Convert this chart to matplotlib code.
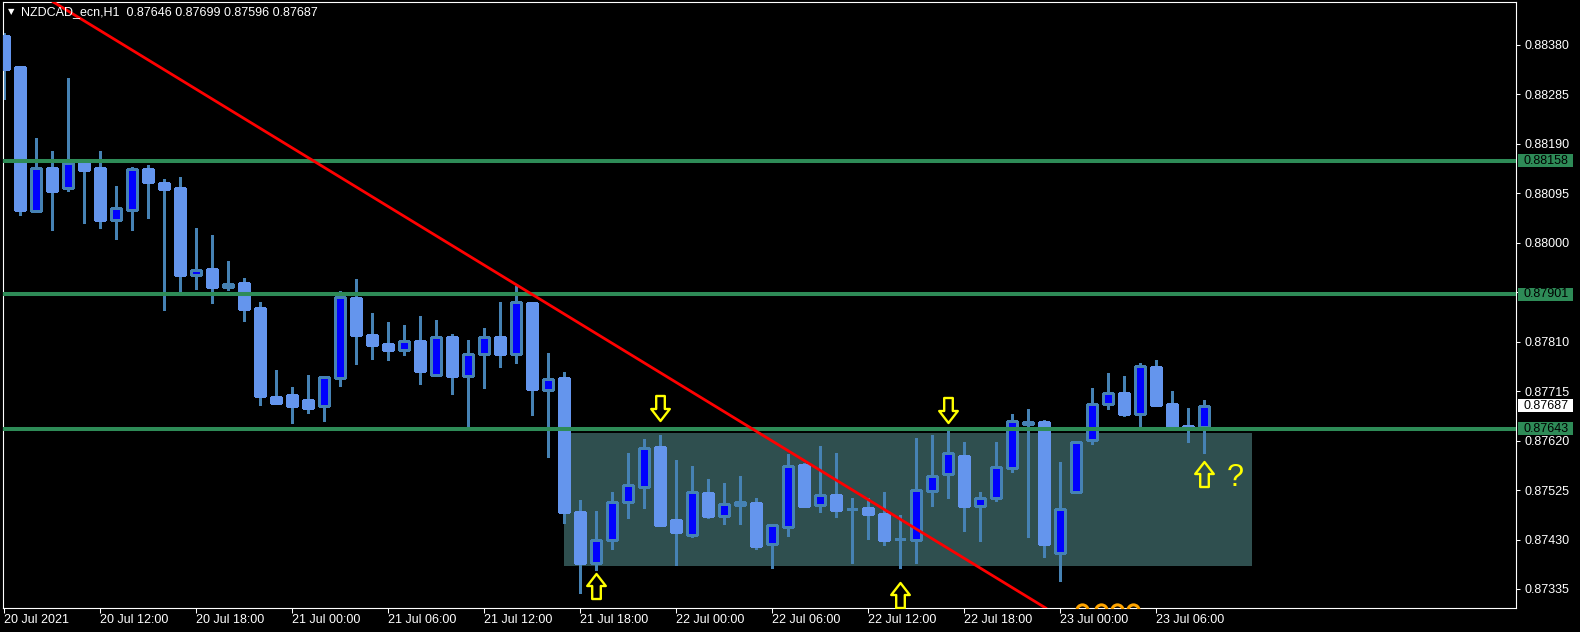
import matplotlib
matplotlib.use('Agg')
import matplotlib.pyplot as plt
import numpy as np
from matplotlib.path import Path
from matplotlib.patches import Rectangle
from matplotlib.transforms import blended_transform_factory

plt.rcParams['font.family'] = ['Liberation Sans', 'DejaVu Sans']

# Cabecera del grafico
symbol = 'NZDCAD_ecn,H1'
last_ohlc = [0.87646, 0.87699, 0.87596, 0.87687]

# Velas H1 desde 20 Jul 06:00 (indice 0) hasta 23 Jul 09:00 (indice 75)
opens = [0.88397, 0.88338, 0.88062, 0.88143, 0.88105, 0.88155, 0.88143, 0.88044, 0.88064, 0.88142,
         0.88115, 0.88105, 0.87939, 0.87950, 0.87916, 0.87923, 0.87875, 0.87704, 0.87707, 0.87698,
         0.87686, 0.87741, 0.87894, 0.87823, 0.87806, 0.87795, 0.87811, 0.87747, 0.87820, 0.87745,
         0.87786, 0.87819, 0.87786, 0.87884, 0.87717, 0.87740, 0.87483, 0.87384, 0.87429, 0.87502,
         0.87530, 0.87608, 0.87468, 0.87439, 0.87519, 0.87475, 0.87496, 0.87500, 0.87421, 0.87455,
         0.87573, 0.87496, 0.87515, 0.87489, 0.87491, 0.87479, 0.87431, 0.87430, 0.87524, 0.87555,
         0.87591, 0.87494, 0.87509, 0.87567, 0.87651, 0.87656, 0.87404, 0.87522, 0.87621, 0.87690,
         0.87711, 0.87672, 0.87761, 0.87690, 0.87648, 0.87646]
highs = [0.88403, 0.88340, 0.88202, 0.88176, 0.88316, 0.88157, 0.88176, 0.88109, 0.88146, 0.88149,
         0.88123, 0.88126, 0.88028, 0.88015, 0.87965, 0.87932, 0.87886, 0.87756, 0.87723, 0.87746,
         0.87744, 0.87907, 0.87930, 0.87865, 0.87848, 0.87842, 0.87859, 0.87852, 0.87825, 0.87813,
         0.87836, 0.87886, 0.87917, 0.87886, 0.87788, 0.87752, 0.87506, 0.87485, 0.87521, 0.87596,
         0.87624, 0.87631, 0.87583, 0.87571, 0.87546, 0.87539, 0.87552, 0.87509, 0.87459, 0.87594,
         0.87577, 0.87610, 0.87596, 0.87509, 0.87509, 0.87521, 0.87477, 0.87626, 0.87631, 0.87639,
         0.87618, 0.87521, 0.87617, 0.87671, 0.87680, 0.87660, 0.87579, 0.87620, 0.87721, 0.87750,
         0.87744, 0.87770, 0.87775, 0.87715, 0.87682, 0.87699]
lows = [0.88276, 0.88053, 0.88060, 0.88025, 0.88100, 0.88039, 0.88028, 0.88007, 0.88025, 0.88048,
        0.87870, 0.87906, 0.87911, 0.87885, 0.87909, 0.87850, 0.87689, 0.87693, 0.87654, 0.87674,
        0.87658, 0.87724, 0.87768, 0.87777, 0.87775, 0.87785, 0.87729, 0.87745, 0.87710, 0.87648,
        0.87722, 0.87762, 0.87770, 0.87669, 0.87589, 0.87462, 0.87327, 0.87371, 0.87412, 0.87472,
        0.87491, 0.87457, 0.87381, 0.87434, 0.87472, 0.87459, 0.87459, 0.87412, 0.87376, 0.87437,
        0.87495, 0.87482, 0.87474, 0.87384, 0.87432, 0.87420, 0.87376, 0.87384, 0.87495, 0.87509,
        0.87446, 0.87428, 0.87505, 0.87560, 0.87435, 0.87397, 0.87351, 0.87520, 0.87614, 0.87681,
        0.87668, 0.87646, 0.87687, 0.87644, 0.87618, 0.87596]
closes = [0.88334, 0.88063, 0.88143, 0.88100, 0.88153, 0.88139, 0.88044, 0.88067, 0.88142, 0.88116,
          0.88104, 0.87938, 0.87948, 0.87916, 0.87920, 0.87873, 0.87706, 0.87693, 0.87687, 0.87683,
          0.87742, 0.87896, 0.87822, 0.87804, 0.87794, 0.87811, 0.87754, 0.87820, 0.87745, 0.87786,
          0.87820, 0.87787, 0.87886, 0.87720, 0.87738, 0.87482, 0.87384, 0.87429, 0.87502, 0.87534,
          0.87605, 0.87457, 0.87445, 0.87521, 0.87476, 0.87498, 0.87502, 0.87418, 0.87457, 0.87572,
          0.87495, 0.87515, 0.87487, 0.87489, 0.87480, 0.87430, 0.87431, 0.87525, 0.87553, 0.87596,
          0.87495, 0.87509, 0.87569, 0.87657, 0.87655, 0.87422, 0.87488, 0.87617, 0.87690, 0.87711,
          0.87672, 0.87763, 0.87688, 0.87644, 0.87644, 0.87687]

# Ejes
x_tick_bars = [0, 6, 12, 18, 24, 30, 36, 42, 48, 54, 60, 66, 72]
x_tick_labels = ['20 Jul 2021', '20 Jul 12:00', '20 Jul 18:00', '21 Jul 00:00', '21 Jul 06:00',
                 '21 Jul 12:00', '21 Jul 18:00', '22 Jul 00:00', '22 Jul 06:00', '22 Jul 12:00',
                 '22 Jul 18:00', '23 Jul 00:00', '23 Jul 06:00']
y_ticks = [0.88380, 0.88285, 0.88190, 0.88095, 0.88000, 0.87905, 0.87810, 0.87715,
           0.87620, 0.87525, 0.87430, 0.87335]

# Objetos dibujados
level_prices = [0.88158, 0.87901, 0.87643]
trend_bars = [3.2, 65.0]
trend_prices = [0.88461, 0.87301]
box_bars = [35, 78]
box_prices = [0.87380, 0.87635]
up_arrow_bars = [37, 56, 75]
up_arrow_prices = [0.87341, 0.87324, 0.87555]
down_arrow_bars = [41, 59]
down_arrow_prices = [0.87683, 0.87679]
question_bar = 77
question_price = 0.87548
circle_bars = [67.4, 68.6, 69.6, 70.6]
circle_price = 0.872947

wick_col = '#4682B4'
bull_col = '#0000FF'
bear_col = '#6495ED'
level_col = '#2E8B57'

W, H = 1580, 632
fig = plt.figure(figsize=(W / 100, H / 100), dpi=100, facecolor='black')
ax = fig.add_axes([2.5 / W, 1 - 608 / H, 1513.5 / W, 606 / H])
ax.set_facecolor('black')

# rectangulo de rango
ax.add_patch(Rectangle((box_bars[0], box_prices[0]), box_bars[1] - box_bars[0],
                       box_prices[1] - box_prices[0], facecolor='#2F4F4F',
                       edgecolor='none', zorder=1))

# velas
idx = np.arange(len(opens))
o = np.array(opens)
c = np.array(closes)
bull = c >= o
body_low = np.minimum(o, c)
body_h = np.abs(c - o)
ax.vlines(idx, lows, highs, color=wick_col, lw=0.75, zorder=2, antialiased=False)
ax.bar(idx[~bull], body_h[~bull], bottom=body_low[~bull], width=0.625, color=bear_col,
       edgecolor=bear_col, linewidth=0.75, zorder=3, antialiased=False)
ax.bar(idx[bull], body_h[bull], bottom=body_low[bull], width=0.625, color=bull_col,
       edgecolor=wick_col, linewidth=0.75, zorder=3, antialiased=False)

# niveles horizontales
for p in level_prices:
    ax.axhline(p, color=level_col, lw=2.9, zorder=4)

# linea de tendencia
ax.axline((trend_bars[0], trend_prices[0]), (trend_bars[1], trend_prices[1]),
          color='#FF0000', lw=2.0, zorder=5)

# flechas
up_path = Path([(0, 12.5), (9.3, 0.5), (4.3, 0.5), (4.3, -12.5), (-4.3, -12.5),
                (-4.3, 0.5), (-9.3, 0.5), (0, 12.5)], closed=True)
down_path = Path([(x, -y) for x, y in up_path.vertices], closed=True)
ax.plot(up_arrow_bars, up_arrow_prices, ls='none', marker=up_path, ms=18,
        mfc='none', mec='#FFFF00', mew=1.7, zorder=7)
ax.plot(down_arrow_bars, down_arrow_prices, ls='none', marker=down_path, ms=18,
        mfc='none', mec='#FFFF00', mew=1.7, zorder=7)
ax.text(question_bar, question_price, '?', color='#FFFF00', fontsize=22,
        ha='center', va='center', zorder=7)
ax.plot(circle_bars, [circle_price] * len(circle_bars), ls='none', marker='o', ms=8.1,
        mfc='none', mec='#FFA500', mew=2.2, zorder=6)

ax.set_xlim(-0.0625, 94.53)
ax.set_ylim(0.872985, 0.884626)

for s in ax.spines.values():
    s.set_color('white')
    s.set_linewidth(0.8)

ax.yaxis.tick_right()
ax.set_yticks(y_ticks)
ax.set_yticklabels([f'{v:.5f}' for v in y_ticks])
ax.tick_params(axis='y', colors='white', length=3, width=0.75, pad=3, labelsize=9)
ax.set_xticks(x_tick_bars)
ax.set_xticklabels(x_tick_labels)
ax.tick_params(axis='x', colors='white', length=3.5, width=0.75, pad=1, labelsize=9)
for lbl in ax.get_xticklabels():
    lbl.set_ha('left')

# etiquetas de precio a la derecha
trans = blended_transform_factory(fig.transFigure, ax.transData)
half = 6.5 / 52057
for p in level_prices:
    ax.add_patch(Rectangle((1518 / W, p - half), 55 / W, 2 * half, transform=trans,
                           facecolor=level_col, edgecolor='none', clip_on=False, zorder=10))
    ax.text(1523 / W, p, f'{p:.5f}', transform=trans, color='black', fontsize=9,
            ha='left', va='center', zorder=11, clip_on=False)
ax.add_patch(Rectangle((1518 / W, last_ohlc[3] - half), 55 / W, 2 * half, transform=trans,
                       facecolor='white', edgecolor='none', clip_on=False, zorder=10))
ax.text(1523 / W, last_ohlc[3], f'{last_ohlc[3]:.5f}', transform=trans, color='black',
        fontsize=9, ha='left', va='center', zorder=11, clip_on=False)

# cabecera
fig.text(11 / W, 1 - 12 / H, '\u25bc', color='white', fontsize=6, ha='center', va='center',
         family='DejaVu Sans')
fig.text(21 / W, 1 - 12 / H, symbol + '  ' + ' '.join(f'{v:.5f}' for v in last_ohlc),
         color='white', fontsize=9, ha='left', va='center')

fig.savefig('out.png', dpi=100, facecolor='black')
